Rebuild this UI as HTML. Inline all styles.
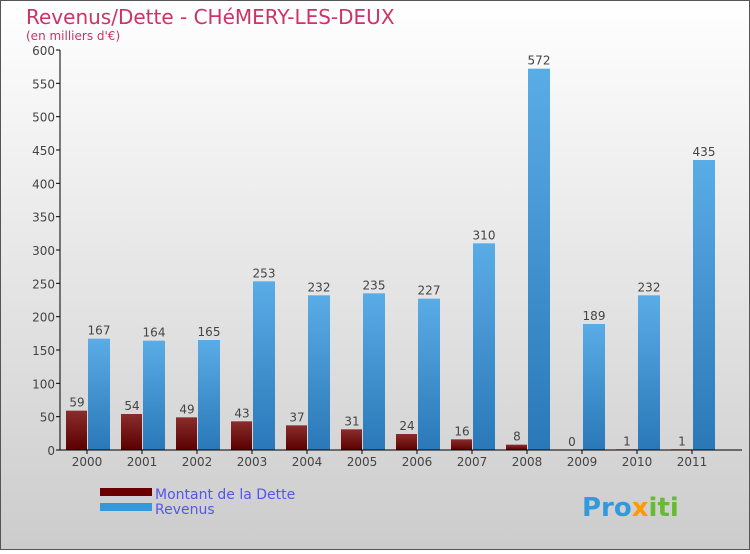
<!DOCTYPE html>
<html><head><meta charset="utf-8"><style>
html,body{margin:0;padding:0}
body{width:750px;height:550px;overflow:hidden;font-family:"DejaVu Sans","Liberation Sans",sans-serif}
</style></head><body>
<svg width="750" height="550" xmlns="http://www.w3.org/2000/svg">
<defs>
<linearGradient id="bg" x1="0" y1="0" x2="0" y2="1"><stop offset="0" stop-color="#ffffff"/><stop offset="1" stop-color="#cccccc"/></linearGradient>
<linearGradient id="gd" x1="0" y1="0" x2="0" y2="1"><stop offset="0" stop-color="#8a2c2c"/><stop offset="1" stop-color="#5a0000"/></linearGradient>
<linearGradient id="gr" x1="0" y1="0" x2="0" y2="1"><stop offset="0" stop-color="#5aace6"/><stop offset="1" stop-color="#2a78b8"/></linearGradient>
</defs>
<rect x="0.5" y="0.5" width="749" height="549" fill="url(#bg)" stroke="#555"/>
<text x="26" y="24" font-size="20" fill="#cc3366">Revenus/Dette - CHéMERY-LES-DEUX</text>
<text x="26" y="40" font-size="12" fill="#cc3366">(en milliers d'€)</text>
<g id="plot"></g>
<g>
<rect x="100" y="488" width="52" height="8" fill="#6a0000"/>
<text x="155" y="499" font-size="14" fill="#5555ee">Montant de la Dette</text>
<rect x="100" y="503" width="52" height="8" fill="#3399dd"/>
<text x="155" y="514" font-size="14" fill="#5555ee">Revenus</text>
</g>
<text x="582" y="516" font-size="26" font-weight="bold" fill="#3399dd">Pro<tspan fill="#ff9900">x</tspan><tspan fill="#66bb33">iti</tspan></text>
</svg>
<script>
const years=["2000","2001","2002","2003","2004","2005","2006","2007","2008","2009","2010","2011"];
const dette=[59,54,49,43,37,31,24,16,8,0,1,1];
const revenus=[167,164,165,253,232,235,227,310,572,189,232,435];
const yTicks=[0,50,100,150,200,250,300,350,400,450,500,550,600];
const NS="http://www.w3.org/2000/svg";
const g=document.getElementById('plot');
const x0=60,y0=450,yTop=50,step=55,first=87;
const ys=v=>y0-(v/600)*(y0-yTop);
const xc=i=>first+i*step;
function mk(t,a,txt){const e=document.createElementNS(NS,t);for(const k in a)e.setAttribute(k,a[k]);if(txt!==undefined)e.textContent=txt;g.appendChild(e);return e;}
yTicks.forEach(v=>{
 const l=mk('line',{x1:x0-4,x2:x0,y1:ys(v),y2:ys(v),stroke:'#000'});
 
 
 const t=mk('text',{x:x0-5,y:ys(v)+5,'font-size':12,'text-anchor':'end',fill:'#444'},v);
 
 
});
years.forEach((y,i)=>{
 const c=xc(i);
 const bd=mk('rect',{x:c-21,y:ys(dette[i]),width:21,height:y0-ys(dette[i]),fill:'url(#gd)'});
 
 
 const br=mk('rect',{x:c+1,y:ys(revenus[i]),width:22,height:y0-ys(revenus[i]),fill:'url(#gr)'});
 
 
 const td=mk('text',{x:c-10,y:ys(dette[i])-4,'font-size':12,'text-anchor':'middle',fill:'#444'},dette[i]);
 
 
 const tr=mk('text',{x:c+12,y:ys(revenus[i])-4,'font-size':12,'text-anchor':'middle',fill:'#444'},revenus[i]);
 
 
 const tk=mk('line',{x1:c,x2:c,y1:y0,y2:y0+4,stroke:'#000'});
 
 
 const tl=mk('text',{x:c,y:y0+16,'font-size':12,'text-anchor':'middle',fill:'#444'},y);
 
 
});
const ya=mk('line',{x1:x0,x2:x0,y1:yTop,y2:y0,stroke:'#000'});


const xa=mk('line',{x1:x0,x2:742,y1:y0,y2:y0,stroke:'#000'});


</script>
</body></html>
